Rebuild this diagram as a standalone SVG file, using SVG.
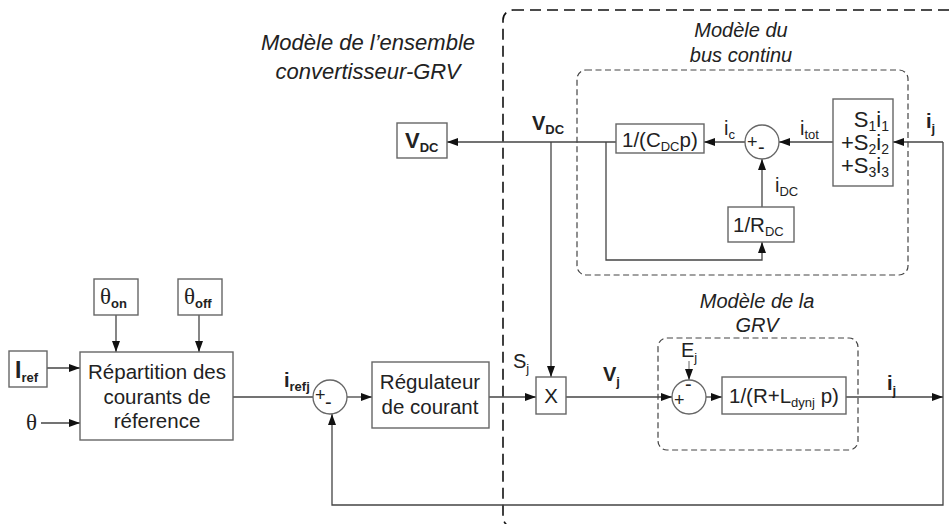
<svg xmlns="http://www.w3.org/2000/svg" width="952" height="524" viewBox="0 0 952 524">
<defs>
<marker id="ah" markerUnits="userSpaceOnUse" markerWidth="12" markerHeight="10" refX="11" refY="4" orient="auto">
<path d="M0,0 L11,4 L0,8 Z" fill="#111"/>
</marker>
<style>
text{font-family:"Liberation Sans",Arial,sans-serif;fill:#222;}
.t{font-size:20.5px;}
.b{font-weight:bold;}
.it{font-style:italic;font-size:20px;}
.blk{fill:#fff;stroke:#666;stroke-width:1.4;}
.ln{fill:none;stroke:#444;stroke-width:1.3;}
.ar{fill:none;stroke:#444;stroke-width:1.3;marker-end:url(#ah);}
.sum{fill:#fff;stroke:#666;stroke-width:1.3;}
.th{font-family:"Liberation Serif","Times New Roman",serif;font-size:23px;}
.outer{fill:none;stroke:#111;stroke-width:1.6;stroke-dasharray:11,6;}
.inner{fill:none;stroke:#444;stroke-width:1.2;stroke-dasharray:6,3.5;}
.s{font-size:13px;}
.lb{font-size:20px;}
</style>
</defs>

<g id="frames">
<rect class="outer" x="503" y="10" width="470" height="517" rx="10"/>
<rect class="inner" x="577" y="70" width="331" height="205" rx="9"/>
<rect class="inner" x="658" y="338" width="200" height="112" rx="9"/>
<text class="it" style="font-size:22px" x="368" y="50" text-anchor="middle">Modèle de l’ensemble</text>
<text class="it" style="font-size:22px" x="368" y="79" text-anchor="middle">convertisseur-GRV</text>
<text class="it" x="741" y="37" text-anchor="middle">Modèle du</text>
<text class="it" x="741" y="62" text-anchor="middle">bus continu</text>
<text class="it" x="757" y="308" text-anchor="middle">Modèle de la</text>
<text class="it" x="757" y="332" text-anchor="middle">GRV</text>
</g>

<g id="connectors">
<line class="ar" x1="47" y1="368" x2="80" y2="368"/>
<line class="ar" x1="41" y1="423" x2="80" y2="423"/>
<line class="ar" x1="116" y1="315" x2="116" y2="352"/>
<line class="ar" x1="199" y1="315" x2="199" y2="352"/>
<line class="ln" x1="233" y1="397" x2="313" y2="397"/>
<line class="ar" x1="347" y1="397" x2="372" y2="397"/>
<line class="ar" x1="489" y1="397" x2="536" y2="397"/>
<line class="ar" x1="566" y1="397" x2="672" y2="397"/>
<line class="ar" x1="706" y1="397" x2="722" y2="397"/>
<line class="ar" x1="846" y1="397" x2="943" y2="397"/>
<polyline class="ar" points="943,142 943,505 332,505 332,414"/>
<line class="ar" x1="616" y1="142" x2="447" y2="142"/>
<line class="ar" x1="551" y1="142" x2="551" y2="377"/>
<line class="ar" x1="745" y1="142" x2="704" y2="142"/>
<line class="ar" x1="833" y1="142" x2="779" y2="142"/>
<line class="ar" x1="943" y1="142" x2="893" y2="142"/>
<line class="ar" x1="762" y1="207" x2="762" y2="159"/>
<polyline class="ar" points="606,142 606,260 762,260 762,242"/>
<line class="ar" x1="689" y1="361" x2="689" y2="380" style="stroke:#666;stroke-width:1"/>
</g>

<g id="n_iref">
<rect class="blk" x="9" y="351" width="38" height="36"/>
<text class="b" style="font-size:23px" x="15" y="378">I<tspan class="s" dy="4">ref</tspan></text>
</g>
<g id="n_theta">
<text class="th" x="26" y="430">θ</text>
</g>
<g id="n_thon">
<rect class="blk" x="94" y="279" width="44" height="36"/>
<text class="th" x="100" y="304">θ<tspan class="b s" style="font-family:'Liberation Sans',Arial,sans-serif" dy="4">on</tspan></text>
</g>
<g id="n_thoff">
<rect class="blk" x="178" y="279" width="44" height="36"/>
<text class="th" x="184" y="304">θ<tspan class="b s" style="font-family:'Liberation Sans',Arial,sans-serif" dy="4">off</tspan></text>
</g>
<g id="n_repart">
<rect class="blk" x="80" y="352" width="153" height="88"/>
<text class="t" x="157" y="379" text-anchor="middle">Répartition des</text>
<text class="t" x="157" y="404" text-anchor="middle">courants de</text>
<text class="t" x="157" y="428" text-anchor="middle">réference</text>
</g>
<g id="n_irefj">
<text class="b" style="font-size:20px" x="284" y="387">i<tspan class="s" dy="4">refj</tspan></text>
</g>
<g id="n_sum1">
<circle class="sum" cx="330" cy="397" r="17"/>
<text style="font-size:18px" x="315" y="401">+</text>
<text style="font-size:20px" x="325" y="409">-</text>
</g>
<g id="n_reg">
<rect class="blk" x="372" y="362" width="117" height="66"/>
<text class="t" x="430" y="389" text-anchor="middle">Régulateur</text>
<text class="t" x="430" y="414" text-anchor="middle">de courant</text>
</g>
<g id="n_sj">
<text class="lb" x="513" y="368">S<tspan class="s" dy="5">j</tspan></text>
</g>
<g id="n_x">
<rect class="blk" x="536" y="377" width="30" height="37"/>
<text class="t" x="551" y="403" text-anchor="middle">X</text>
</g>
<g id="n_vj">
<text class="b" style="font-size:20px" x="603" y="381">V<tspan class="s" dy="5">j</tspan></text>
</g>
<g id="n_vdcout">
<rect class="blk" x="397" y="123" width="50" height="35"/>
<text class="b" style="font-size:22px" x="405" y="148">V<tspan class="s" dy="4">DC</tspan></text>
</g>
<g id="n_vdclabel">
<text class="b" style="font-size:20px" x="532" y="130">V<tspan class="s" dy="4">DC</tspan></text>
</g>
<g id="n_cdc">
<rect class="blk" x="616" y="124" width="88" height="29"/>
<text class="t" x="622" y="147">1/(C<tspan class="s" dy="4">DC</tspan><tspan dy="-4">p)</tspan></text>
</g>
<g id="n_ic">
<text class="lb" x="724" y="135">i<tspan class="s" dy="4">c</tspan></text>
</g>
<g id="n_sum2">
<circle class="sum" cx="762" cy="142" r="17"/>
<text style="font-size:18px" x="747" y="148">+</text>
<text style="font-size:20px" x="758" y="154">-</text>
</g>
<g id="n_itot">
<text class="lb" x="800" y="135">i<tspan class="s" dy="4">tot</tspan></text>
</g>
<g id="n_s">
<rect class="blk" x="833" y="99" width="60" height="87"/>
<text style="font-size:22px" x="889" y="127" text-anchor="end">S<tspan style="font-size:14px" dy="4">1</tspan><tspan dy="-4">i</tspan><tspan style="font-size:14px" dy="4">1</tspan></text>
<text style="font-size:22px" x="889" y="150" text-anchor="end">+S<tspan style="font-size:14px" dy="4">2</tspan><tspan dy="-4">i</tspan><tspan style="font-size:14px" dy="4">2</tspan></text>
<text style="font-size:22px" x="889" y="173" text-anchor="end">+S<tspan style="font-size:14px" dy="4">3</tspan><tspan dy="-4">i</tspan><tspan style="font-size:14px" dy="4">3</tspan></text>
</g>
<g id="n_idc">
<text class="lb" x="775" y="192">i<tspan class="s" dy="4">DC</tspan></text>
</g>
<g id="n_rdc">
<rect class="blk" x="728" y="207" width="66" height="35"/>
<text class="t" x="733" y="232">1/R<tspan class="s" dy="4">DC</tspan></text>
</g>
<g id="n_ijtop">
<text class="b" style="font-size:20px" x="926" y="128">i<tspan class="s" dy="5">j</tspan></text>
</g>
<g id="n_ej">
<text class="lb" x="681" y="357">E<tspan class="s" dy="5">j</tspan></text>
</g>
<g id="n_sum3">
<circle class="sum" cx="689" cy="397" r="17"/>
<text style="font-size:18px" x="674" y="406">+</text>
<text style="font-size:20px" x="685" y="391">-</text>
</g>
<g id="n_rl">
<rect class="blk" x="722" y="377" width="124" height="37"/>
<text class="t" x="729" y="403">1/(R+L<tspan class="s" dy="4">dynj</tspan><tspan dy="-4"> p)</tspan></text>
</g>
<g id="n_ij">
<text class="b" style="font-size:20px" x="887" y="390">i<tspan class="s" dy="5">j</tspan></text>
</g>
</svg>
